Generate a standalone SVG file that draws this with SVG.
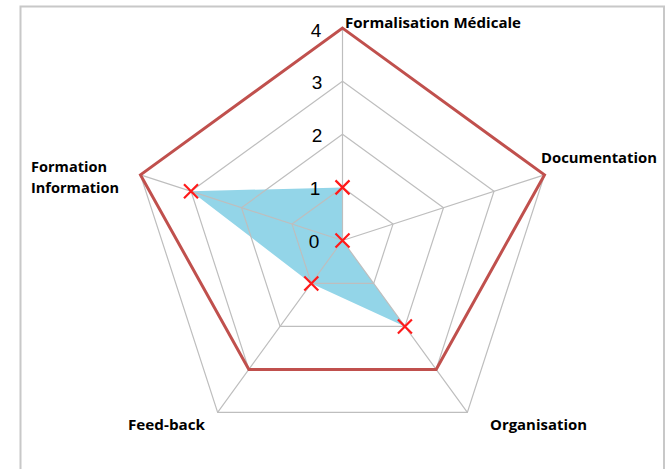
<svg xmlns="http://www.w3.org/2000/svg" xmlns:xlink="http://www.w3.org/1999/xlink" width="666" height="469" viewBox="0 0 666 469">
<style>
.frame{fill:#FFFFFF;stroke:#C8C8C8;stroke-width:2}
.grid{fill:none;stroke:#BEBEBE;stroke-width:1.2}
.red{fill:none;stroke:#C0504D;stroke-width:3;stroke-linejoin:miter}
.blue{fill:#93D5E8;stroke:none}
.mk{fill:none;stroke:#FF1A1A;stroke-width:2.2}
.num{font-family:"Liberation Sans",Arial,sans-serif;font-size:19px;fill:#000000;text-anchor:middle}
.lbl{font-family:"Open Sans","Liberation Sans",Arial,sans-serif;font-size:14.5px;font-weight:bold;fill:#000000}
</style>
<defs>
<path id="x" class="mk" d="M-7,-7 L7,7 M-7,7 L7,-7"/>
</defs>
<rect class="frame" x="20.5" y="6.5" width="643.5" height="480"/>
<g id="series-fill">
<polygon class="blue" points="342.5,187.4 342.5,240.5 404.92,326.42 311.29,283.46 191,191.27"/>
</g>
<g id="grid">
<polygon class="grid" points="342.5,187.4 393,224.09 373.71,283.46 311.29,283.46 292,224.09"/>
<polygon class="grid" points="342.5,134.3 443.5,207.68 404.92,326.42 280.08,326.42 241.5,207.68"/>
<polygon class="grid" points="342.5,81.2 494,191.27 436.14,369.38 248.86,369.38 191,191.27"/>
<polygon class="grid" points="342.5,28.1 544.5,174.86 467.35,412.34 217.65,412.34 140.5,174.86"/>
<path class="grid" d="M342.5,240.5 L342.5,28.1 M342.5,240.5 L544.5,174.86 M342.5,240.5 L467.35,412.34 M342.5,240.5 L217.65,412.34 M342.5,240.5 L140.5,174.86"/>
</g>
<g id="connectors">
<polygon class="red" points="342.5,28.1 544.5,174.86 436.14,369.38 248.86,369.38 140.5,174.86"/>
</g>
<g id="markers">
<use xlink:href="#x" x="342.5" y="187.4"/>
<use xlink:href="#x" x="342.5" y="240.5"/>
<use xlink:href="#x" x="404.92" y="326.42"/>
<use xlink:href="#x" x="311.29" y="283.46"/>
<use xlink:href="#x" x="191" y="191.27"/>
</g>
<g id="axis-values">
<text class="num" x="316" y="37">4</text>
<text class="num" x="317" y="89">3</text>
<text class="num" x="317" y="142">2</text>
<text class="num" x="315" y="195">1</text>
<text class="num" x="314" y="248">0</text>
</g>
<g id="node-formalisation"><text class="lbl" x="345" y="28" textLength="176" lengthAdjust="spacingAndGlyphs">Formalisation Médicale</text></g>
<g id="node-documentation"><text class="lbl" x="541" y="163" textLength="116" lengthAdjust="spacingAndGlyphs">Documentation</text></g>
<g id="node-organisation"><text class="lbl" x="490" y="430" textLength="97" lengthAdjust="spacingAndGlyphs">Organisation</text></g>
<g id="node-feedback"><text class="lbl" x="128" y="430" textLength="77" lengthAdjust="spacingAndGlyphs">Feed-back</text></g>
<g id="node-formation"><text class="lbl" x="31" y="172" textLength="76" lengthAdjust="spacingAndGlyphs">Formation</text><text class="lbl" x="31" y="193" textLength="88" lengthAdjust="spacingAndGlyphs">Information</text></g>
</svg>
